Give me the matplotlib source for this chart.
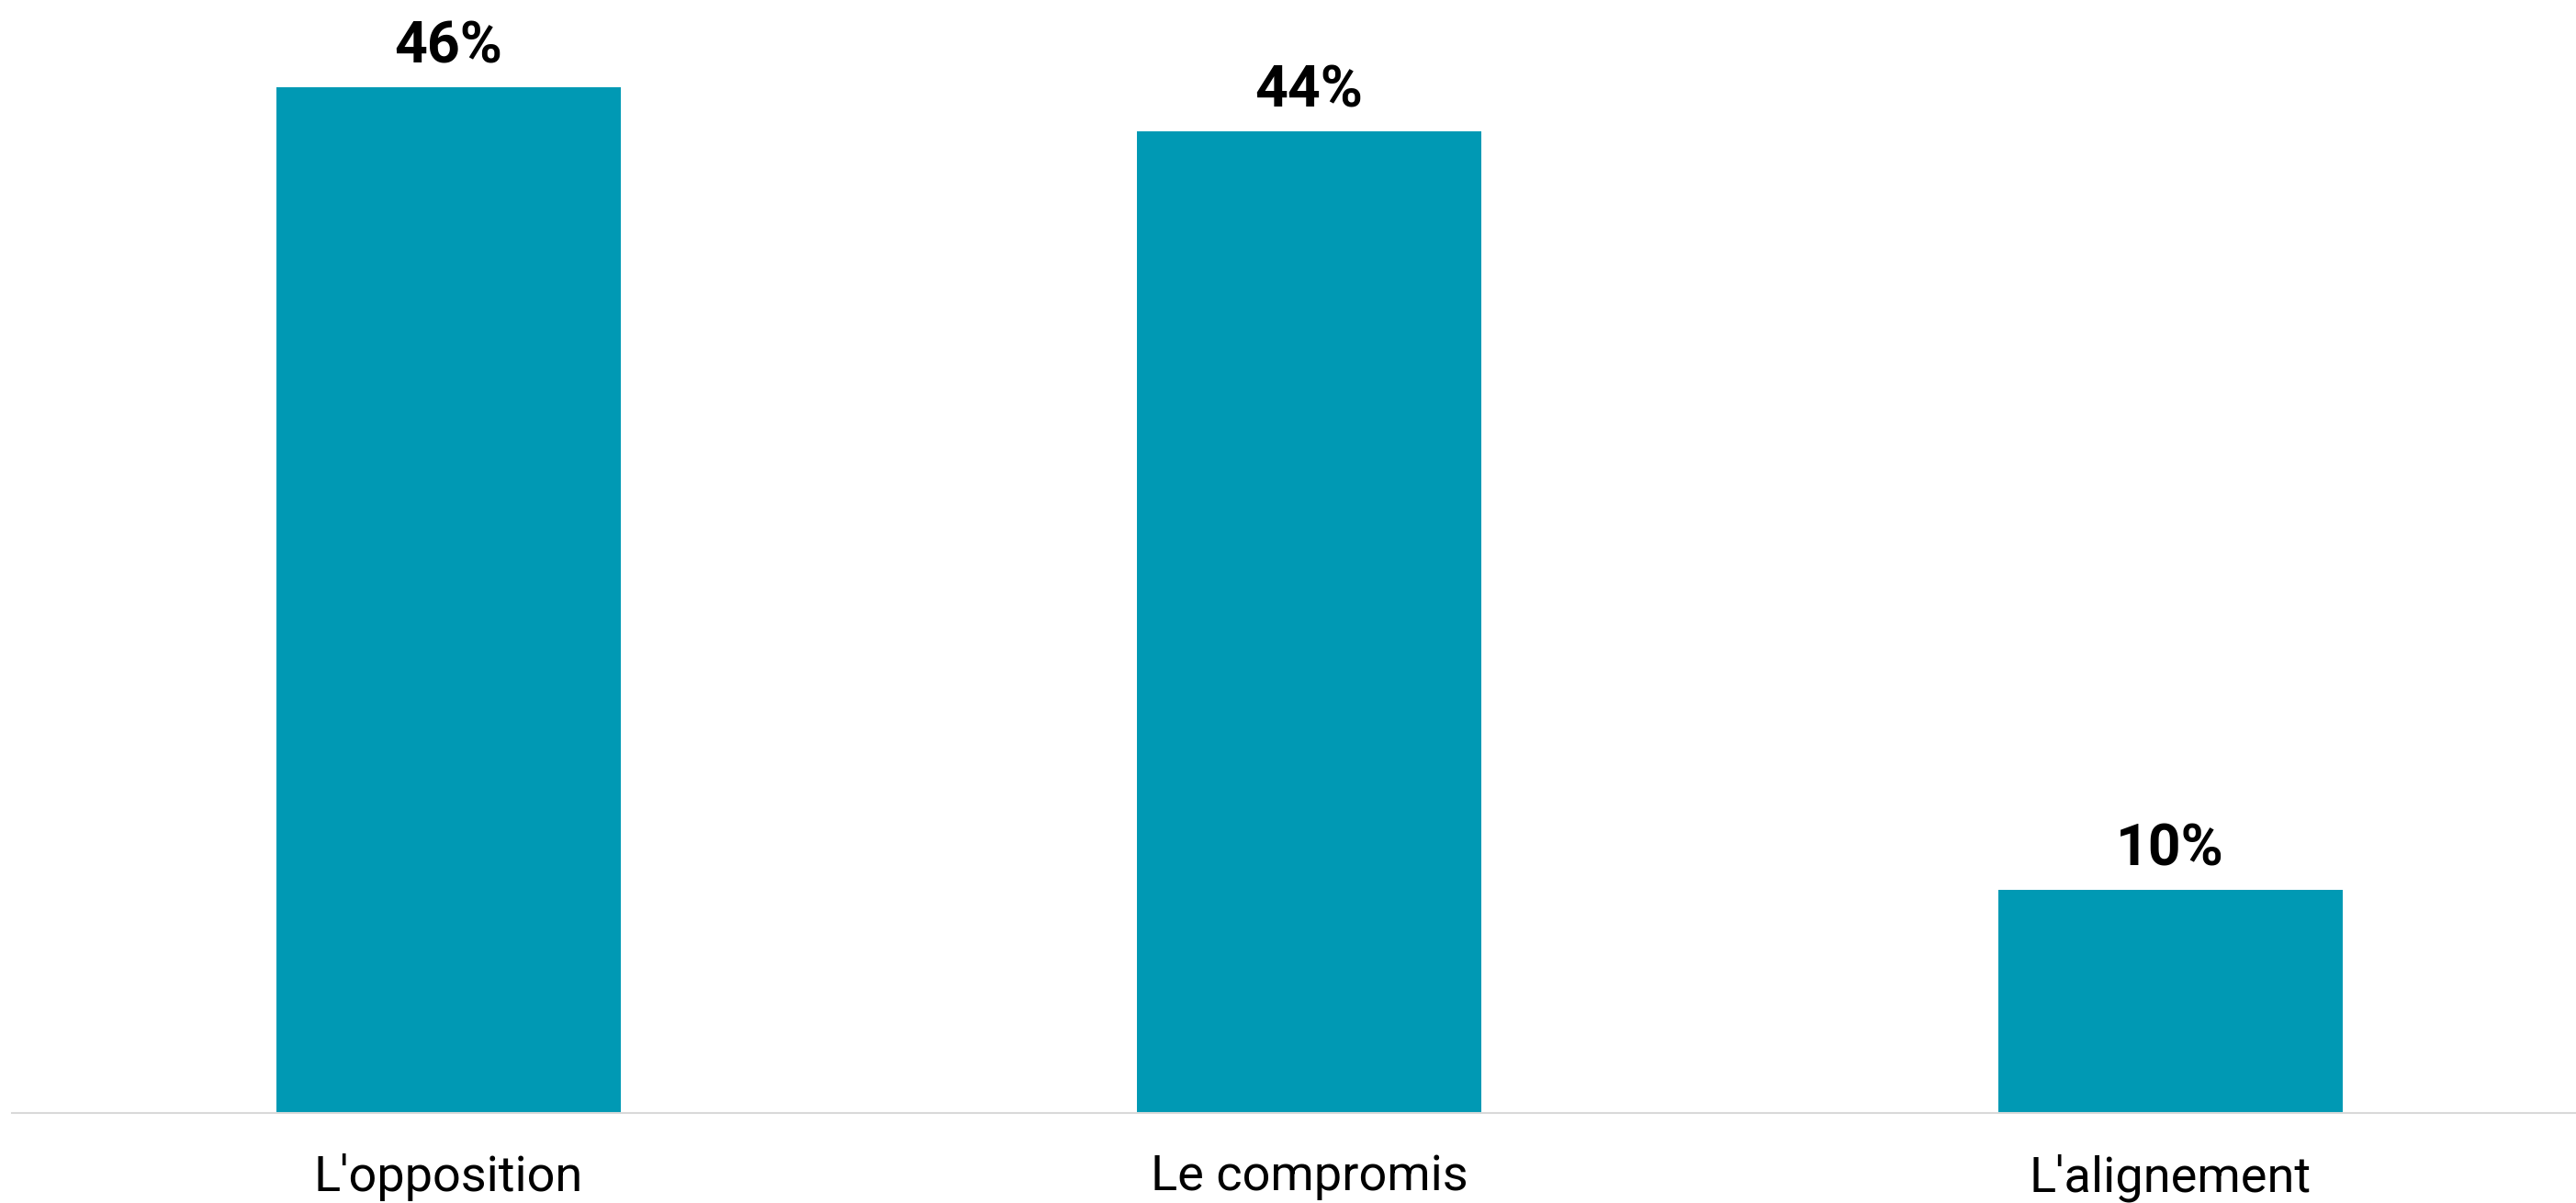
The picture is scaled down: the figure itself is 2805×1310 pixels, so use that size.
import matplotlib
matplotlib.use("Agg")
import matplotlib.pyplot as plt

categories = ["L'opposition", "Le compromis", "L'alignement"]
values = [46, 44, 10]
value_labels = ["46%", "44%", "10%"]

plt.rcParams['font.family'] = ['Roboto', 'DejaVu Sans']

fig = plt.figure(figsize=(28.05, 13.10), dpi=100)
ax = fig.add_axes([13 / 2805, 98 / 1310, 1 - 13 / 2805, 1 - 98 / 1310])

x = list(range(len(categories)))
bars = ax.bar(x, values, width=0.4, color='#0099b4')

# etiquettes des valeurs au-dessus des barres
for rect, lab in zip(bars, value_labels):
    ax.annotate(lab, xy=(rect.get_x() + rect.get_width() / 2, rect.get_height()),
                xytext=(0, 19), textcoords='offset points', ha='center', va='baseline',
                fontsize=45, fontweight='bold', color='black')

ax.set_xlim(-0.507, 2.4715)
ax.set_ylim(0, 49.9)
ax.set_xticks(x)
ax.set_xticklabels(categories, fontsize=39, color='black')
ax.tick_params(axis='x', length=0, pad=32)
ax.set_yticks([])

for side in ['top', 'right', 'left']:
    ax.spines[side].set_visible(False)
ax.spines['bottom'].set_color('#d9d9d9')
ax.spines['bottom'].set_linewidth(1.5)

fig.savefig('out.png', dpi=100)
